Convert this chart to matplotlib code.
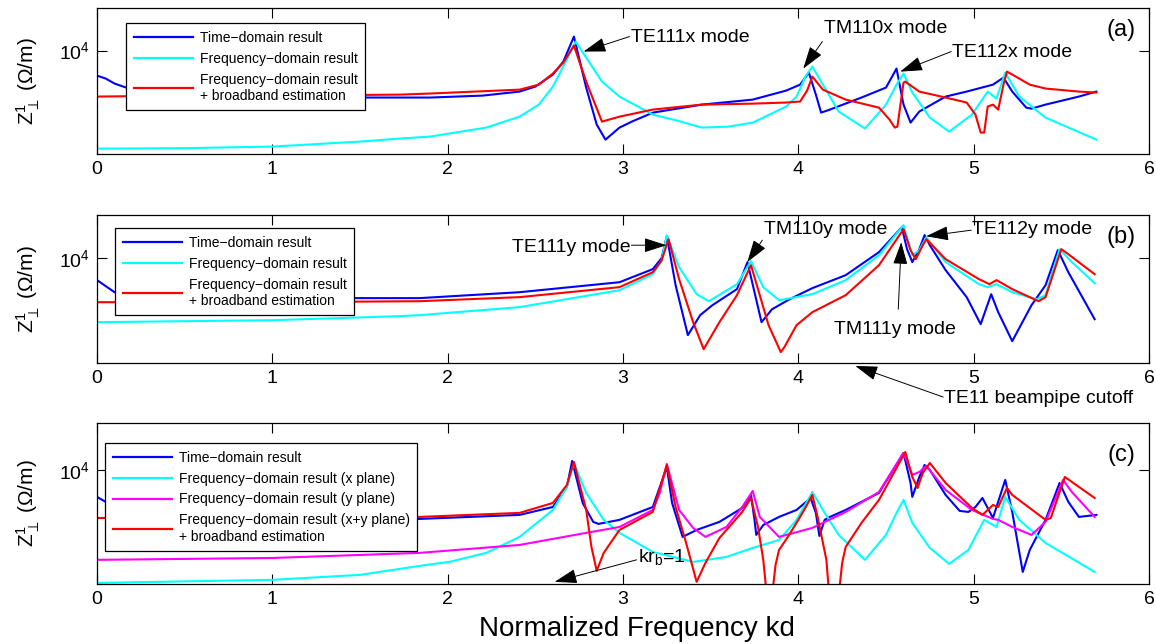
import numpy as np
import matplotlib
matplotlib.use('Agg')
import matplotlib.pyplot as plt
from matplotlib.ticker import FixedLocator, NullLocator, LogFormatterMathtext
import matplotlib.transforms as mtransforms

plt.rcParams['font.family'] = ['Liberation Sans', 'DejaVu Sans']
plt.rcParams['mathtext.fontset'] = 'custom'
plt.rcParams['mathtext.rm'] = 'Liberation Sans'
plt.rcParams['mathtext.it'] = 'Liberation Sans:italic'
plt.rcParams['mathtext.bf'] = 'Liberation Sans:bold'

# ---------------- data: log10 of |Z| (Ohm/m) ----------------
# Panel (a)
a_x_time = [0.00,0.05,0.10,0.20,0.30,0.60,1.00,1.50,1.90,2.20,2.41,2.50,2.60,2.66,2.72,2.79,2.85,2.90,2.98,3.05,3.17,3.45,3.74,3.93,4.01,4.06,4.10,4.13,4.18,4.36,4.50,4.56,4.60,4.64,4.69,4.84,4.96,5.11,5.17,5.22,5.30,5.33,5.41,5.60,5.70]
a_time = [3.794,3.770,3.729,3.679,3.655,3.630,3.618,3.614,3.614,3.630,3.663,3.704,3.803,3.910,4.115,3.696,3.392,3.268,3.367,3.416,3.490,3.556,3.597,3.671,3.720,3.819,3.638,3.490,3.515,3.614,3.696,3.852,3.556,3.408,3.499,3.622,3.663,3.720,3.778,3.663,3.531,3.523,3.556,3.622,3.663]
a_x_freq = [0.00,0.50,1.00,1.50,1.73,1.90,2.22,2.41,2.52,2.60,2.68,2.73,2.79,2.88,2.98,3.17,3.31,3.45,3.60,3.74,3.93,3.99,4.04,4.08,4.14,4.23,4.38,4.50,4.56,4.60,4.65,4.75,4.86,4.99,5.08,5.13,5.18,5.26,5.41,5.70]
a_freq = [3.194,3.198,3.211,3.252,3.277,3.293,3.367,3.457,3.556,3.704,3.926,4.074,3.942,3.745,3.622,3.474,3.424,3.367,3.375,3.408,3.540,3.622,3.786,3.868,3.720,3.499,3.359,3.556,3.720,3.811,3.655,3.449,3.334,3.474,3.663,3.605,3.819,3.622,3.449,3.268]
a_x_bb = [0.00,0.50,1.00,1.73,1.90,2.41,2.52,2.60,2.66,2.72,2.79,2.88,2.98,3.17,3.45,3.74,3.93,4.01,4.05,4.08,4.14,4.27,4.46,4.52,4.55,4.565,4.60,4.61,4.69,4.84,4.96,5.01,5.04,5.06,5.08,5.11,5.14,5.17,5.19,5.22,5.32,5.41,5.60,5.70]
a_bb = [3.622,3.630,3.630,3.638,3.647,3.679,3.720,3.811,3.901,4.041,3.745,3.416,3.457,3.515,3.556,3.564,3.573,3.581,3.671,3.786,3.679,3.597,3.531,3.433,3.367,3.375,3.737,3.745,3.663,3.614,3.573,3.474,3.326,3.326,3.540,3.556,3.515,3.720,3.827,3.803,3.720,3.688,3.663,3.655]

# Panel (b)
b_x_time = [0.00,0.05,0.10,0.20,0.60,1.00,1.84,2.41,2.98,3.17,3.22,3.25,3.30,3.37,3.44,3.51,3.65,3.71,3.75,3.79,3.85,3.95,4.08,4.27,4.46,4.59,4.62,4.65,4.69,4.72,4.75,4.84,4.96,5.04,5.10,5.14,5.22,5.33,5.41,5.48,5.54,5.69]
b_time = [3.822,3.773,3.724,3.692,3.676,3.676,3.676,3.724,3.805,3.911,4.000,4.178,3.781,3.376,3.538,3.619,3.749,3.968,3.724,3.481,3.586,3.667,3.757,3.862,4.049,4.251,4.073,3.968,4.073,4.187,4.105,3.903,3.684,3.465,3.708,3.562,3.327,3.619,3.781,4.065,3.886,3.505]
b_x_freq = [0.00,1.00,1.73,1.84,2.41,2.98,3.17,3.22,3.25,3.32,3.42,3.49,3.65,3.73,3.80,3.89,4.08,4.27,4.46,4.60,4.65,4.69,4.73,4.84,5.03,5.08,5.13,5.22,5.36,5.41,5.49,5.56,5.69]
b_freq = [3.481,3.497,3.530,3.538,3.603,3.740,3.870,3.980,4.187,3.927,3.708,3.651,3.789,3.976,3.765,3.659,3.708,3.822,4.024,4.268,4.024,4.065,4.170,3.968,3.789,3.765,3.789,3.724,3.667,3.700,4.073,3.968,3.797]
b_x_bb = [0.00,1.00,1.84,2.41,2.98,3.17,3.22,3.26,3.32,3.40,3.46,3.55,3.65,3.73,3.78,3.83,3.90,3.92,3.99,4.08,4.27,4.46,4.60,4.64,4.67,4.71,4.73,4.84,5.03,5.09,5.13,5.22,5.37,5.41,5.50,5.54,5.69]
b_bb = [3.643,3.643,3.651,3.684,3.765,3.886,3.980,4.154,3.830,3.481,3.262,3.481,3.700,3.943,3.700,3.457,3.238,3.278,3.457,3.562,3.700,3.943,4.235,4.065,3.992,4.105,4.154,3.992,3.830,3.789,3.822,3.749,3.651,3.684,4.073,4.032,3.870]

# Panel (c)
c_x_time = [0.00,0.05,0.10,0.20,1.00,1.84,2.41,2.60,2.68,2.71,2.77,2.83,2.86,2.98,3.17,3.25,3.28,3.34,3.42,3.55,3.68,3.73,3.75,3.76,3.80,3.89,3.99,4.07,4.10,4.12,4.15,4.18,4.27,4.46,4.60,4.64,4.65,4.69,4.72,4.75,4.84,4.92,4.97,5.01,5.05,5.11,5.18,5.22,5.28,5.32,5.41,5.49,5.54,5.60,5.70]
c_time = [3.799,3.762,3.717,3.672,3.642,3.635,3.665,3.724,3.873,4.067,3.754,3.613,3.598,3.628,3.724,4.022,3.754,3.501,3.553,3.613,3.717,3.814,3.628,3.516,3.590,3.650,3.702,3.791,3.680,3.508,3.628,3.650,3.702,3.829,4.127,3.903,3.799,3.948,4.037,4.000,3.814,3.695,3.687,3.724,3.791,3.642,3.926,3.687,3.240,3.404,3.628,3.903,3.762,3.650,3.665]
c_x_fx = [0.00,1.00,1.50,1.84,2.01,2.22,2.41,2.60,2.68,2.72,2.79,2.89,2.98,3.17,3.40,3.59,3.74,3.89,3.99,4.08,4.14,4.23,4.38,4.50,4.56,4.60,4.65,4.75,4.86,4.97,5.06,5.13,5.18,5.26,5.41,5.69]
c_fx = [3.158,3.181,3.218,3.285,3.315,3.382,3.501,3.702,3.873,4.052,3.829,3.628,3.531,3.389,3.315,3.352,3.419,3.478,3.628,3.836,3.702,3.516,3.330,3.516,3.680,3.777,3.605,3.419,3.300,3.404,3.628,3.575,3.799,3.628,3.456,3.240]
c_x_fy = [0.00,1.00,1.84,2.41,2.79,2.98,3.17,3.21,3.25,3.32,3.40,3.47,3.59,3.68,3.74,3.78,3.89,4.08,4.27,4.46,4.60,4.65,4.69,4.73,4.84,4.99,5.11,5.14,5.22,5.33,5.41,5.51,5.56,5.69]
c_fy = [3.330,3.344,3.382,3.441,3.531,3.575,3.702,3.829,4.045,3.702,3.568,3.501,3.575,3.724,3.844,3.650,3.501,3.568,3.687,3.836,4.127,3.963,3.985,4.030,3.851,3.702,3.635,3.628,3.575,3.516,3.613,3.926,3.836,3.650]
c_x_bb = [0.00,1.00,1.84,2.41,2.60,2.68,2.72,2.79,2.82,2.85,2.89,2.98,3.17,3.25,3.30,3.36,3.42,3.47,3.55,3.68,3.73,3.77,3.80,3.825,3.845,3.87,3.89,3.94,4.00,4.04,4.08,4.11,4.16,4.18,4.225,4.25,4.27,4.36,4.46,4.61,4.65,4.68,4.71,4.75,4.84,4.99,5.05,5.11,5.14,5.19,5.22,5.41,5.44,5.52,5.56,5.69]
c_bb = [3.642,3.650,3.650,3.680,3.754,3.888,4.060,3.702,3.426,3.248,3.382,3.553,3.687,4.037,3.724,3.456,3.166,3.307,3.493,3.687,3.791,3.575,3.330,3.000,3.000,3.292,3.404,3.501,3.628,3.717,3.814,3.650,3.330,3.000,3.000,3.307,3.426,3.605,3.777,4.134,3.948,3.866,3.978,4.052,3.903,3.717,3.665,3.739,3.724,3.866,3.814,3.628,3.642,3.948,3.911,3.791]

xticks = [0, 1, 2, 3, 4, 5, 6]

lab_time = 'Time\u2212domain result'
lab_freq = 'Frequency\u2212domain result'
lab_bb = 'Frequency\u2212domain result\n+ broadband estimation'
lab_fx = 'Frequency\u2212domain result (x plane)'
lab_fy = 'Frequency\u2212domain result (y plane)'
lab_fxy = 'Frequency\u2212domain result (x+y plane)\n+ broadband estimation'

BLUE = '#0000ff'; CYAN = '#00ffff'; RED = '#ff0000'; MAG = '#ff00ff'
LW = 1.5

W, H = 1156, 644
fig = plt.figure(figsize=(W / 100, H / 100), dpi=100)


def add_ax(left, top, right, bottom):
    return fig.add_axes([left / W, 1 - bottom / H, (right - left) / W, (bottom - top) / H])


axa = add_ax(97, 8, 1149, 154)
axb = add_ax(97, 215, 1149, 363)
axc = add_ax(97, 423, 1149, 584)

YLO, YHI = 10 ** 3.15, 10 ** 4.35


def Z(v):
    return np.power(10.0, np.asarray(v, dtype=float))


def style(ax):
    ax.set_yscale('log')
    ax.set_xlim(0, 6)
    ax.set_ylim(YLO, YHI)
    ax.set_xticks(xticks)
    ax.yaxis.set_major_locator(FixedLocator([1e4]))
    ax.yaxis.set_minor_locator(NullLocator())
    ax.yaxis.set_major_formatter(LogFormatterMathtext())
    ax.tick_params(direction='in', length=7, width=0.8, top=True, right=True,
                   labelsize=14, pad=5)
    for s in ax.spines.values():
        s.set_linewidth(0.9)


for ax in (axa, axb, axc):
    style(ax)

# panel (a)
axa.plot(a_x_time, Z(a_time), color=BLUE, lw=LW, label=lab_time)
axa.plot(a_x_freq, Z(a_freq), color=CYAN, lw=LW, label=lab_freq)
axa.plot(a_x_bb, Z(a_bb), color=RED, lw=LW, label=lab_bb)
# panel (b)
axb.plot(b_x_time, Z(b_time), color=BLUE, lw=LW, label=lab_time)
axb.plot(b_x_freq, Z(b_freq), color=CYAN, lw=LW, label=lab_freq)
axb.plot(b_x_bb, Z(b_bb), color=RED, lw=LW, label=lab_bb)
# panel (c)
axc.plot(c_x_time, Z(c_time), color=BLUE, lw=LW, label=lab_time)
axc.plot(c_x_fx, Z(c_fx), color=CYAN, lw=LW, label=lab_fx)
axc.plot(c_x_fy, Z(c_fy), color=MAG, lw=LW, label=lab_fy)
axc.plot(c_x_bb, Z(c_bb), color=RED, lw=LW, label=lab_fxy)


def legend(ax, anchor):
    leg = ax.legend(loc='upper left', bbox_to_anchor=anchor, borderaxespad=0,
                    fontsize=10, handlelength=4.25, handletextpad=0.5,
                    borderpad=0.55, fancybox=False, edgecolor='k', framealpha=1)
    leg.get_frame().set_linewidth(0.9)
    for ln in leg.get_lines():
        ln.set_linewidth(1.6)


legend(axa, (0.0276, 0.897))
legend(axb, (0.0171, 0.912))
legend(axc, (0.0076, 0.876))

# y labels
for yc in (81, 289, 503):
    fig.text(28 / W, 1 - yc / H, r'$\mathrm{Z}_{\perp}^{1}$ (' + '\u03a9' + '/m)',
             rotation=90, ha='center', va='center', fontsize=15)

fig.text(637 / W, 1 - 629 / H, 'Normalized Frequency kd', ha='center', va='center',
         fontsize=20)

# panel letters
axa.text(0.987, 0.849, '(a)', transform=axa.transAxes, ha='right', va='center', fontsize=17)
axb.text(0.987, 0.851, '(b)', transform=axb.transAxes, ha='right', va='center', fontsize=17)
axc.text(0.987, 0.800, '(c)', transform=axc.transAxes, ha='right', va='center', fontsize=17)

ARROW = dict(arrowstyle='-|>,head_length=1.4,head_width=0.45', mutation_scale=10,
             lw=0.7, color='k', shrinkA=0, shrinkB=0)
AFS = 14


def arrow(ax, tip, tail, coords='data'):
    ax.annotate('', xy=tip, xytext=tail, xycoords=coords, textcoords=coords,
                arrowprops=ARROW, annotation_clip=False)


def L(v):
    return 10 ** v

# (a) annotations
arrow(axa, (2.775, L(3.992)), (3.037, L(4.115)))
axa.text(3.043, L(4.107), 'TE111x mode', ha='left', va='center', fontsize=AFS)
arrow(axa, (4.028, L(3.852)), (4.137, L(4.074)))
axa.text(4.148, L(4.181), 'TM110x mode', ha='left', va='center', fontsize=AFS)
arrow(axa, (4.581, L(3.827)), (4.872, L(3.992)))
axa.text(4.877, L(3.984), 'TE112x mode', ha='left', va='center', fontsize=AFS)

# (b) annotations
arrow(axb, (3.248, L(4.105)), (3.048, L(4.105)))
axb.text(3.043, L(4.089), 'TE111y mode', ha='right', va='center', fontsize=AFS)
arrow(axb, (3.709, L(3.968)), (3.795, L(4.146)))
axb.text(3.806, L(4.235), 'TM110y mode', ha='left', va='center', fontsize=AFS)
arrow(axb, (4.729, L(4.178)), (4.986, L(4.227)))
axb.text(4.991, L(4.235), 'TE112y mode', ha='left', va='center', fontsize=AFS)
arrow(axb, (4.587, L(4.130)), (4.570, L(3.586)))
axb.text(4.205, L(3.424), 'TM111y mode', ha='left', va='center', fontsize=AFS)
blend = ('data', 'axes fraction')
arrow(axb, (4.325, -0.02), (4.826, -0.23), coords=blend)
tb = mtransforms.blended_transform_factory(axb.transData, axb.transAxes)
axb.text(4.832, -0.243, 'TE11 beampipe cutoff', transform=tb, ha='left', va='center',
         fontsize=AFS, clip_on=False)

# (c) annotation
arrow(axc, (2.61, L(3.166)), (3.077, L(3.330)))
axc.text(3.083, L(3.352), r'kr$_\mathrm{b}$=1', ha='left', va='center', fontsize=AFS)

fig.savefig('out.png', dpi=100)
